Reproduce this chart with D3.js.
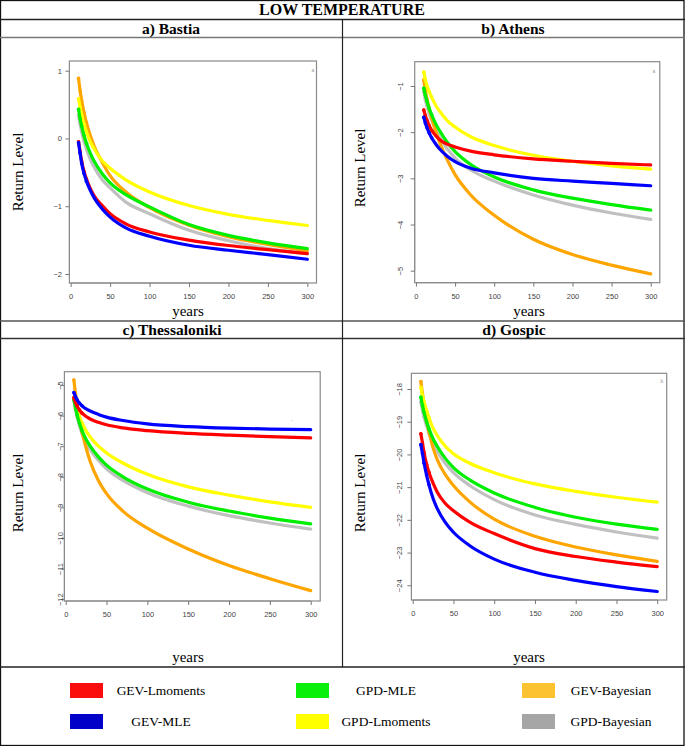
<!DOCTYPE html>
<html><head><meta charset="utf-8">
<script src="https://cdn.jsdelivr.net/npm/d3@7"></script>
<style>
html,body{margin:0;padding:0;background:#fff;}
svg{display:block;}
</style></head><body>
<svg id="chart" width="685" height="746"></svg>
<script>
// ---------- DATA ----------
const years = [10, 12, 14, 17, 20, 25, 30, 40, 50, 70, 100, 150, 200, 250, 300];
const seriesNames = ["GEV-Lmoments", "GEV-MLE", "GPD-MLE", "GPD-Lmoments", "GEV-Bayesian", "GPD-Bayesian"];
const seriesColors = ["#ff0000", "#0000ff", "#00ee00", "#ffff00", "#ffa500", "#c0c0c0"];
const legendColors = ["#fb0d0d", "#0000c8", "#0af00a", "#ffff00", "#fdc22f", "#a6a6a6"];
const panelTitles = ["a) Bastia", "b) Athens", "c) Thessaloniki", "d) Gospic"];
const mainTitle = "LOW TEMPERATURE";
const xTicks = [0, 50, 100, 150, 200, 250, 300];
const bastiaTicks = [1, 0, -1, -2];
const athensTicks = [-1, -2, -3, -4, -5];
const thessTicks = [-5, -6, -7, -8, -9, -10, -11, -12];
const gospicTicks = [-18, -19, -20, -21, -22, -23, -24];

// a) Bastia
const bastiaGevLmoments = [-0.05, -0.20, -0.34, -0.49, -0.60, -0.74, -0.85, -0.99, -1.11, -1.26, -1.38, -1.50, -1.58, -1.64, -1.70];
const bastiaGevMle      = [-0.065, -0.22, -0.37, -0.52, -0.63, -0.77, -0.88, -1.04, -1.16, -1.32, -1.443, -1.576, -1.65, -1.713, -1.783];
const bastiaGpdMle      = [0.43, 0.29, 0.18, 0.04, -0.07, -0.22, -0.34, -0.52, -0.655, -0.83, -1.01, -1.27, -1.43, -1.54, -1.625];
const bastiaGpdLmoments = [0.585, 0.455, 0.346, 0.21, 0.10, -0.05, -0.16, -0.33, -0.44, -0.61, -0.79, -0.99, -1.12, -1.21, -1.285];
const bastiaGevBayes    = [0.886, 0.70, 0.556, 0.378, 0.235, 0.04, -0.12, -0.35, -0.55, -0.79, -1.02, -1.28, -1.45, -1.565, -1.66];
const bastiaGpdBayes    = [0.344, 0.21, 0.095, -0.04, -0.155, -0.31, -0.43, -0.61, -0.73, -0.94, -1.11, -1.355, -1.51, -1.625, -1.70];

// b) Athens
const athensGevLmoments = [-1.52, -1.64, -1.74, -1.86, -1.96, -2.07, -2.16, -2.26, -2.32, -2.41, -2.49, -2.58, -2.63, -2.675, -2.71];
const athensGevMle      = [-1.68, -1.80, -1.90, -2.02, -2.12, -2.25, -2.36, -2.52, -2.64, -2.78, -2.88, -3.0, -3.06, -3.11, -3.16];
const athensGpdMle      = [-1.05, -1.20, -1.33, -1.49, -1.62, -1.81, -1.96, -2.22, -2.42, -2.70, -2.97, -3.25, -3.43, -3.57, -3.69];
const athensGpdLmoments = [-0.70, -0.86, -0.99, -1.12, -1.24, -1.41, -1.54, -1.75, -1.89, -2.10, -2.29, -2.50, -2.63, -2.73, -2.80];
const athensGevBayes    = [-0.87, -1.10, -1.28, -1.49, -1.68, -1.97, -2.21, -2.60, -2.92, -3.36, -3.80, -4.32, -4.65, -4.88, -5.07];
const athensGpdBayes    = [-1.12, -1.29, -1.42, -1.60, -1.74, -1.94, -2.10, -2.36, -2.56, -2.82, -3.06, -3.36, -3.58, -3.75, -3.89];

// c) Thessaloniki
const thessGevLmoments = [-5.42, -5.57, -5.69, -5.82, -5.92, -6.03, -6.11, -6.22, -6.30, -6.40, -6.49, -6.58, -6.64, -6.69, -6.73];
const thessGevMle      = [-5.25, -5.38, -5.48, -5.60, -5.68, -5.78, -5.85, -5.96, -6.05, -6.16, -6.27, -6.36, -6.41, -6.44, -6.46];
const thessGpdMle      = [-5.48, -5.75, -5.98, -6.26, -6.49, -6.78, -7.00, -7.35, -7.62, -8.00, -8.40, -8.83, -9.12, -9.35, -9.54];
const thessGpdLmoments = [-5.40, -5.62, -5.82, -6.05, -6.24, -6.50, -6.70, -7.00, -7.22, -7.55, -7.92, -8.33, -8.60, -8.82, -9.00];
const thessGevBayes    = [-4.84, -5.28, -5.65, -6.13, -6.53, -7.06, -7.50, -8.12, -8.55, -9.12, -9.68, -10.36, -10.90, -11.33, -11.72];
const thessGpdBayes    = [-5.50, -5.79, -6.04, -6.34, -6.58, -6.88, -7.11, -7.46, -7.74, -8.12, -8.52, -8.96, -9.27, -9.51, -9.71];

// d) Gospic
const gospicGevLmoments = [-19.37, -19.65, -19.95, -20.30, -20.55, -20.88, -21.15, -21.50, -21.72, -22.07, -22.42, -22.88, -23.12, -23.29, -23.43];
const gospicGevMle      = [-19.70, -19.98, -20.27, -20.63, -20.93, -21.35, -21.65, -22.08, -22.38, -22.79, -23.20, -23.60, -23.85, -24.04, -24.19];
const gospicGpdMle      = [-18.25, -18.50, -18.72, -19.00, -19.22, -19.52, -19.75, -20.12, -20.40, -20.78, -21.18, -21.62, -21.92, -22.13, -22.29];
const gospicGpdLmoments = [-17.95, -18.20, -18.40, -18.65, -18.88, -19.20, -19.42, -19.75, -19.98, -20.27, -20.56, -20.90, -21.13, -21.31, -21.46];
const gospicGevBayes    = [-17.77, -18.15, -18.50, -18.95, -19.30, -19.80, -20.15, -20.62, -20.95, -21.45, -21.98, -22.50, -22.83, -23.07, -23.27];
const gospicGpdBayes    = [-18.40, -18.65, -18.86, -19.12, -19.35, -19.66, -19.90, -20.28, -20.56, -20.95, -21.38, -21.85, -22.14, -22.37, -22.56];

// ---------- LAYOUT ----------
const SERIF = "'Liberation Serif','Times New Roman',serif";
const SANS = "'Liberation Sans',Arial,sans-serif";
const xDomain = [-1.6, 311.6];

const panels = [
  { series: [bastiaGevLmoments, bastiaGevMle, bastiaGpdMle, bastiaGpdLmoments, bastiaGevBayes, bastiaGpdBayes],
    ticks: bastiaTicks, yDomain: [-2.133, 1.143], box: [69.4, 316.5, 61, 283], rotate: false,
    tickLabX: 62, ylabX: 23, ylabY: 172, xlabX: 188, xlabY: 316, mark: {x: 313, y: 72, t: "a"} },
  { series: [athensGevLmoments, athensGevMle, athensGpdMle, athensGpdLmoments, athensGevBayes, athensGpdBayes],
    ticks: athensTicks, yDomain: [-5.26, -0.474], box: [414.7, 659.8, 61.7, 282.7], rotate: true,
    tickLabX: 402.5, ylabX: 365, ylabY: 168, xlabX: 529, xlabY: 316, mark: {x: 654, y: 73, t: "a"} },
  { series: [thessGevLmoments, thessGevMle, thessGpdMle, thessGpdLmoments, thessGevBayes, thessGpdBayes],
    ticks: thessTicks, yDomain: [-12.06, -4.565], box: [64.4, 320.2, 371.7, 601], rotate: true,
    tickLabX: 62.5, ylabX: 23, ylabY: 493, xlabX: 188, xlabY: 662, mark: {x: 292, y: 422, t: "-"} },
  { series: [gospicGevLmoments, gospicGevMle, gospicGpdMle, gospicGpdLmoments, gospicGevBayes, gospicGpdBayes],
    ticks: gospicTicks, yDomain: [-24.45, -17.52], box: [411.4, 666.7, 373.3, 600], rotate: true,
    tickLabX: 402, ylabX: 365, ylabY: 493, xlabX: 529, xlabY: 662, mark: {x: 662, y: 383, t: "b"} }
];
const drawOrder = [5, 4, 3, 2, 0, 1];

const svg = d3.select("#chart");
svg.append("rect").attr("width", 685).attr("height", 746).attr("fill", "#fff");

// ---------- FRAME ----------
const frame = svg.append("g").attr("fill", "none");
frame.append("rect").attr("x", 0.5).attr("y", 0.5).attr("width", 683.5).attr("height", 745)
  .attr("stroke", "#111").attr("stroke-width", 1.3);
const hLines = [[19.5, "#222"], [37.5, "#777"], [321, "#555"], [338.5, "#333"], [667, "#222"]];
hLines.forEach(([y, c]) => frame.append("line").attr("x1", 0).attr("x2", 685).attr("y1", y).attr("y2", y)
  .attr("stroke", c).attr("stroke-width", 1.4));
frame.append("line").attr("x1", 342.5).attr("x2", 342.5).attr("y1", 19.5).attr("y2", 667)
  .attr("stroke", "#222").attr("stroke-width", 1.2);

svg.append("text").attr("x", 342).attr("y", 15).attr("text-anchor", "middle")
  .attr("font-family", SERIF).attr("font-weight", "bold").attr("font-size", 16).text(mainTitle);
const titlePos = [[171, 33.5], [513, 33.5], [172, 335], [514, 335]];
panelTitles.forEach((t, i) => svg.append("text").attr("x", titlePos[i][0]).attr("y", titlePos[i][1])
  .attr("text-anchor", "middle").attr("font-family", SERIF).attr("font-weight", "bold")
  .attr("font-size", 15.5).text(t));

// ---------- PANELS ----------
panels.forEach(p => {
  const [x0, x1, y0, y1] = p.box;
  const x = d3.scaleLinear().domain(xDomain).range([x0, x1]);
  const y = d3.scaleLinear().domain(p.yDomain).range([y1, y0]);
  const g = svg.append("g");

  const line = d3.line().x(d => x(d[0])).y(d => y(d[1])).curve(d3.curveMonotoneX);
  drawOrder.forEach(si => {
    const pts = years.map((yr, k) => [yr, p.series[si][k]]);
    g.append("path").datum(pts).attr("d", line).attr("fill", "none")
      .attr("stroke", seriesColors[si]).attr("stroke-width", 3.2).attr("stroke-linecap", "round");
    g.selectAll(null).data(pts.filter(d => d[0] <= 20)).enter().append("circle")
      .attr("cx", d => x(d[0])).attr("cy", d => y(d[1])).attr("r", 1.8).attr("fill", seriesColors[si]);
  });

  // box
  g.append("rect").attr("x", x0).attr("y", y0).attr("width", x1 - x0).attr("height", y1 - y0)
    .attr("fill", "none").attr("stroke", "#8a8a8a").attr("stroke-width", 1.2);

  // x axis
  const xa = g.append("g").attr("transform", `translate(0,${y1})`)
    .call(d3.axisBottom(x).tickValues(xTicks).tickSize(4).tickSizeOuter(0).tickPadding(7));
  xa.select(".domain").attr("stroke", "#8a8a8a").attr("d", `M${x(0)},0H${x(300)}`);
  xa.selectAll(".tick line").attr("stroke", "#777");
  xa.selectAll(".tick text").attr("font-family", SANS).attr("font-size", 7.5).attr("fill", "#444");

  // y axis
  const ya = g.append("g").attr("transform", `translate(${x0},0)`)
    .call(d3.axisLeft(y).tickValues(p.ticks).tickSize(4).tickSizeOuter(0).tickFormat(d3.format("d")));
  ya.select(".domain").attr("stroke", "#8a8a8a")
    .attr("d", `M0,${y(d3.max(p.ticks))}V${y(d3.min(p.ticks))}`);
  ya.selectAll(".tick line").attr("stroke", "#777");
  const yt = ya.selectAll(".tick text").attr("font-family", SANS).attr("font-size", 7.5).attr("fill", "#444");
  if (p.rotate) {
    yt.attr("x", null).attr("dy", null).attr("text-anchor", "middle")
      .attr("transform", `translate(${p.tickLabX - x0},0) rotate(-90)`);
  } else {
    yt.attr("x", p.tickLabX - x0);
  }

  // axis titles
  g.append("text").attr("transform", `translate(${p.ylabX},${p.ylabY}) rotate(-90)`)
    .attr("text-anchor", "middle").attr("font-family", SERIF).attr("font-size", 15).text("Return Level");
  g.append("text").attr("x", p.xlabX).attr("y", p.xlabY).attr("text-anchor", "middle")
    .attr("font-family", SERIF).attr("font-size", 15).text("years");

  g.append("text").attr("x", p.mark.x).attr("y", p.mark.y).attr("text-anchor", "middle")
    .attr("font-family", SANS).attr("font-size", 5).attr("fill", "#999").text(p.mark.t);
});

// ---------- LEGEND ----------
const legCols = [[70, 161], [296, 386], [522, 611]];
const legRows = [683, 714];
const legendLayout = [[0, 0], [1, 0], [0, 1], [1, 1], [0, 2], [1, 2]]; // [row, col] per series
legendLayout.forEach(([r, c], i) => {
  svg.append("rect").attr("x", legCols[c][0]).attr("y", legRows[r]).attr("width", 33).attr("height", 15)
    .attr("fill", legendColors[i]);
  svg.append("text").attr("x", legCols[c][1]).attr("y", legRows[r] + 12).attr("text-anchor", "middle")
    .attr("font-family", SERIF).attr("font-size", 13.5).text(seriesNames[i]);
});
</script>
</body></html>
